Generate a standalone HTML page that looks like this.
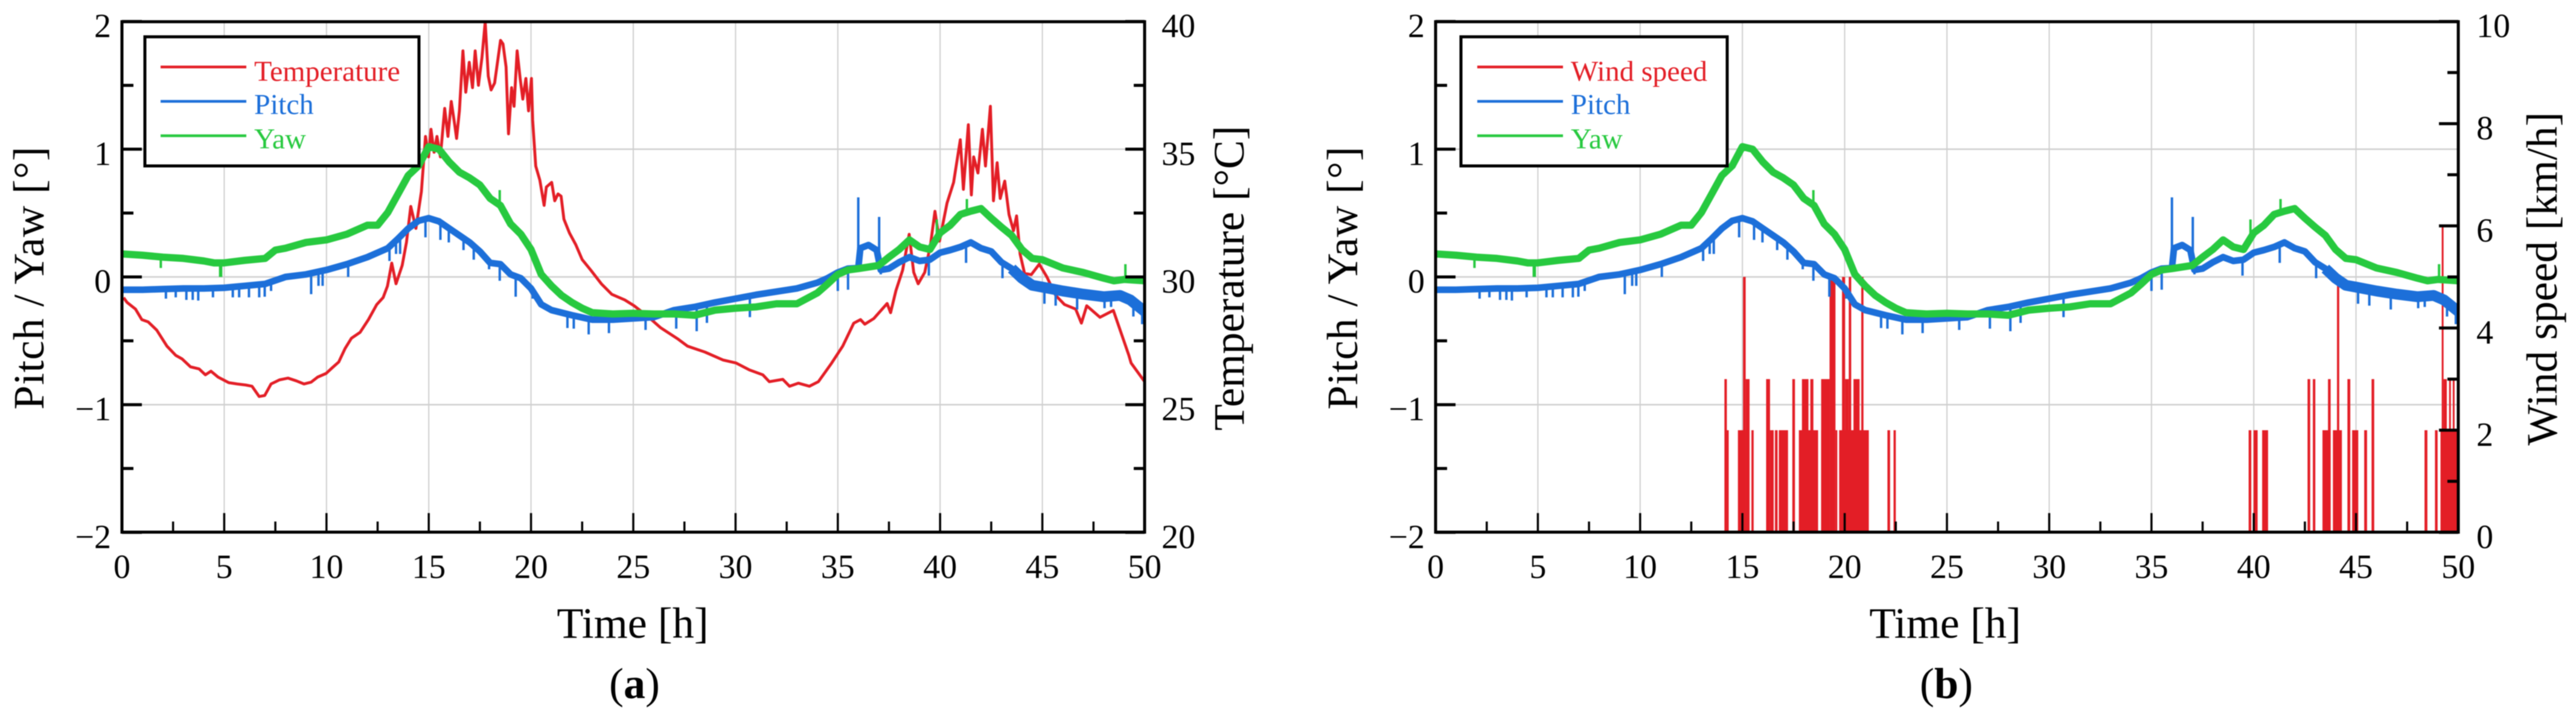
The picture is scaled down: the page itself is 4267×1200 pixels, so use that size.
<!DOCTYPE html>
<html lang="en">
<head>
<meta charset="utf-8">
<title>Pitch and yaw versus time with temperature and wind speed</title>
<style>
html,body{margin:0;padding:0;background:#fff;}
svg{display:block;font-family:"Liberation Serif",serif;filter:blur(0.8px);}
</style>
</head>
<body>
<svg id="figure" xmlns="http://www.w3.org/2000/svg" width="4267" height="1200" viewBox="0 0 4267 1200">
<defs>
<clipPath id="clip-a"><rect x="202" y="36" width="1694" height="846"/></clipPath>
<clipPath id="clip-b"><rect x="2378" y="36" width="1694" height="846"/></clipPath>
</defs>
<rect width="4267" height="1200" fill="#fff"/>

<g id="panel-a">
<g id="grid-a"></g>
<g id="series-a" clip-path="url(#clip-a)"></g>
<g id="ticks-a"></g>
<rect x="202" y="36" width="1694" height="846" fill="none" stroke="#000" stroke-width="5"/>
<g>
<rect x="240" y="61" width="454" height="214" fill="#fff" stroke="#000" stroke-width="5"/>
<line x1="266" x2="408" y1="111" y2="111" stroke="#e31e26" stroke-width="4.5"/>
<text x="421" y="134" font-size="48" fill="#e31e26">Temperature</text>
<line x1="266" x2="408" y1="168" y2="168" stroke="#1c6fd9" stroke-width="4.5"/>
<text x="421" y="189" font-size="48" fill="#1c6fd9">Pitch</text>
<line x1="266" x2="408" y1="225" y2="225" stroke="#27c93f" stroke-width="4.5"/>
<text x="421" y="246" font-size="48" fill="#27c93f">Yaw</text>
</g>
<text transform="translate(72,461) rotate(-90)" text-anchor="middle" font-size="72" textLength="436" lengthAdjust="spacing">Pitch / Yaw [°]</text>
<text transform="translate(2060,461) rotate(-90)" text-anchor="middle" font-size="72">Temperature [°C]</text>
<text x="1048" y="1057" text-anchor="middle" font-size="72">Time [h]</text>
<text x="1051" y="1157" text-anchor="middle" font-size="72">(<tspan font-weight="bold">a</tspan>)</text>
</g>

<g id="panel-b">
<g id="grid-b"></g>
<g id="series-b" clip-path="url(#clip-b)"></g>
<g id="ticks-b"></g>
<rect x="2378" y="36" width="1694" height="846" fill="none" stroke="#000" stroke-width="5"/>
<g>
<rect x="2420" y="61" width="441" height="214" fill="#fff" stroke="#000" stroke-width="5"/>
<line x1="2447" x2="2589" y1="111" y2="111" stroke="#e31e26" stroke-width="4.5"/>
<text x="2602" y="134" font-size="48" fill="#e31e26">Wind speed</text>
<line x1="2447" x2="2589" y1="168" y2="168" stroke="#1c6fd9" stroke-width="4.5"/>
<text x="2602" y="189" font-size="48" fill="#1c6fd9">Pitch</text>
<line x1="2447" x2="2589" y1="225" y2="225" stroke="#27c93f" stroke-width="4.5"/>
<text x="2602" y="246" font-size="48" fill="#27c93f">Yaw</text>
</g>
<text transform="translate(2248,461) rotate(-90)" text-anchor="middle" font-size="72" textLength="436" lengthAdjust="spacing">Pitch / Yaw [°]</text>
<text transform="translate(4235,462) rotate(-90)" text-anchor="middle" font-size="72">Wind speed [km/h]</text>
<text x="3222" y="1057" text-anchor="middle" font-size="72">Time [h]</text>
<text x="3224" y="1157" text-anchor="middle" font-size="72">(<tspan font-weight="bold">b</tspan>)</text>
</g>
</svg>

<script>
const xTickLabels = ["0","5","10","15","20","25","30","35","40","45","50"];
const xTickValues = [0,5,10,15,20,25,30,35,40,45,50];
const xMinorValues = [2.5,7.5,12.5,17.5,22.5,27.5,32.5,37.5,42.5,47.5];
const leftTickLabels = ["2","1","0","\u22121","\u22122"];
const leftTickValues = [2,1,0,-1,-2];
const leftMinorValues = [1.5,0.5,-0.5,-1.5];
const gridYValues = [1,0,-1];
const tempTickLabels = ["40","35","30","25","20"];
const tempTickValues = [40,35,30,25,20];
const tempMinorValues = [37.5,32.5,27.5,22.5];
const windTickLabels = ["10","8","6","4","2","0"];
const windTickValues = [10,8,6,4,2,0];
const windMinorValues = [9,7,5,3,1];

const yawTimes = [0,1,2,3,4,4.5,5,6,7,7.5,8,9,10,11,12,12.5,13,13.5,14,14.5,15,15.5,16,16.5,17,17.5,18,18.5,19,19.5,20,20.5,21,21.5,22,22.5,23,24,25,26,27,28,29,30,31,32,33,34,34.5,35,35.5,36,37,37.5,38,38.5,39,39.5,40,40.5,41,41.5,42,42.5,43,43.5,44,44.5,45,46,47,48,48.5,49,50];
const yawValues = [0.18,0.17,0.155,0.145,0.125,0.11,0.11,0.13,0.145,0.21,0.225,0.27,0.29,0.335,0.405,0.405,0.505,0.65,0.795,0.87,1.02,1.0,0.90,0.82,0.775,0.72,0.615,0.56,0.415,0.335,0.215,0.02,-0.07,-0.145,-0.2,-0.245,-0.28,-0.29,-0.285,-0.29,-0.29,-0.3,-0.26,-0.245,-0.235,-0.21,-0.21,-0.125,-0.055,0.02,0.055,0.065,0.09,0.155,0.215,0.29,0.235,0.215,0.345,0.405,0.49,0.515,0.535,0.46,0.39,0.325,0.215,0.145,0.135,0.07,0.035,-0.01,-0.03,-0.02,-0.03];
const yawSpikeTimes = [1.9,4.8,4.85,18.47,39.84,41.31,49.06];
const yawSpikeValues = [0.07,0,0,0.68,0.45,0.61,0.10];

const pitchTimes = [0,1,2,3,4,5,6,7,8,9,10,11,12,13,13.5,14,14.5,15,15.5,16,16.5,17,17.5,18,18.5,19,19.5,20,20.5,21,22,23,24,25,26,27,28,29,30,31,32,33,34,34.5,35,35.5,36,36.1,36.5,36.9,37.1,37.5,38,38.5,39,39.5,40,40.5,41,41.5,42,42.5,43,43.5,44,44.5,45,46,47,48,48.8,49.3,50];
const pitchValues = [-0.10,-0.10,-0.095,-0.09,-0.09,-0.085,-0.07,-0.055,0,0.02,0.055,0.10,0.155,0.225,0.30,0.38,0.44,0.46,0.435,0.38,0.325,0.27,0.20,0.11,0.10,0.02,-0.01,-0.09,-0.215,-0.26,-0.30,-0.335,-0.335,-0.325,-0.315,-0.26,-0.235,-0.2,-0.17,-0.14,-0.115,-0.09,-0.045,-0.01,0.035,0.065,0.07,0.225,0.25,0.21,0.055,0.065,0.115,0.155,0.125,0.135,0.19,0.21,0.235,0.27,0.225,0.20,0.115,0.065,-0.01,-0.065,-0.08,-0.11,-0.135,-0.155,-0.145,-0.18,-0.27];
const pitchSpikeTimes = [2.15,2.63,3.15,3.46,3.73,4.45,5.42,5.73,6.21,6.71,6.98,7.29,9.25,9.61,9.81,11.06,13.08,13.4,13.6,14.84,15.57,15.98,16.7,17.2,17.95,18.47,19.25,20.08,21.78,22.09,22.82,23.81,25.6,27.1,28.1,28.6,30.7,35.0,35.5,36.0,37.02,37.1,39.45,41.27,43.05,45.1,45.65,46.7,48.04,48.36,49.45,49.88];
const pitchSpikeValues = [-0.17,-0.16,-0.18,-0.18,-0.185,-0.16,-0.16,-0.16,-0.16,-0.16,-0.155,-0.11,-0.135,-0.07,-0.07,0,0.125,0.18,0.18,0.31,0.29,0.27,0.21,0.135,0.06,-0.03,-0.155,-0.17,-0.40,-0.405,-0.45,-0.44,-0.415,-0.405,-0.425,-0.36,-0.315,-0.11,-0.10,0.623,0.47,0.02,0.01,0.11,-0.01,-0.21,-0.225,-0.255,-0.245,-0.235,-0.31,-0.37];

const tempTimes = [0.08,0.25,0.66,0.97,1.28,1.7,2.2,2.63,2.94,3.35,3.77,4.08,4.35,4.7,5.22,5.63,6.05,6.36,6.71,6.98,7.29,7.7,8.12,8.53,8.9,9.25,9.57,9.98,10.29,10.6,10.91,11.22,11.64,12.05,12.46,12.77,12.98,13.19,13.4,13.7,13.91,14.12,14.37,14.64,14.84,14.99,15.11,15.26,15.4,15.57,15.78,15.94,16.1,16.27,16.36,16.5,16.67,16.81,16.98,17.14,17.27,17.43,17.6,17.76,17.91,18.05,18.22,18.51,18.63,18.78,18.9,19.05,19.17,19.32,19.47,19.6,19.75,19.88,20.02,20.08,20.23,20.43,20.64,20.75,21.01,21.16,21.32,21.47,21.61,21.88,22.19,22.5,22.92,23.44,23.95,24.58,25.04,25.7,26.34,27.2,27.65,28.5,29.38,30.03,30.68,31.33,31.65,32.31,32.64,33.07,33.61,34.05,34.37,34.7,35.24,35.78,36.11,36.32,36.76,37.41,37.58,37.84,38.17,38.49,38.71,38.93,39.25,39.53,39.75,39.97,40.34,40.66,40.99,41.14,41.38,41.53,41.64,41.85,42.07,42.22,42.46,42.61,42.79,42.94,43.16,43.37,43.59,43.74,43.91,44.13,44.46,44.85,45.22,45.65,46.08,46.63,46.91,47.17,47.82,48.47,49.23,49.34,50];
const tempValues = [29.19,29.0,28.74,28.33,28.24,27.92,27.29,26.93,26.79,26.48,26.4,26.17,26.31,26.08,25.86,25.81,25.77,25.72,25.32,25.36,25.81,25.97,26.04,25.93,25.81,25.88,26.08,26.22,26.45,26.67,27.2,27.6,27.83,28.33,28.92,29.19,29.64,30.54,29.73,30.45,31.36,32.76,31.9,33.34,35.5,34.7,35.78,34.88,35.5,34.7,36.6,35.5,36.87,35.96,35.42,36.5,38.85,37.23,38.4,37.41,38.85,37.5,38.58,39.98,37.86,37.32,37.59,39.26,39.12,38.22,35.6,37.41,36.68,38.85,37.77,36.96,37.77,36.5,37.77,36.14,34.34,33.79,32.8,33.52,33.7,32.98,33.25,33.16,32.26,31.72,31.26,30.68,30.27,29.73,29.32,29.1,28.87,28.46,28.01,27.56,27.29,27.06,26.75,26.63,26.36,26.17,25.9,25.99,25.72,25.84,25.72,25.9,26.26,26.63,27.29,28.19,28.33,28.15,28.37,28.96,28.6,29.46,30.27,31.67,30.18,29.73,30.18,31.26,32.57,31.4,32.89,33.7,35.37,33.43,35.96,33.21,34.7,34.07,35.78,34.34,36.68,32.98,34.47,33.07,33.75,32.44,31.81,32.39,30.9,30.14,30.09,30.5,30,29.28,28.92,28.74,28.19,28.87,28.42,28.69,26.93,26.63,25.9];

const windStartHours = [14.12,14.24,14.78,15.03,15.16,15.16,15.44,16.16,16.35,16.59,16.78,17.44,17.76,17.91,18.32,18.85,18.85,19.26,19.55,19.73,19.87,20.02,20.2,20.43,20.81,22.09,22.39,39.75,39.99,40.41,42.63,42.89,43.36,43.63,43.87,44.07,44.58,44.81,45.4,45.76,48.35,48.86,49.13,49.19,49.28,49.55,49.73];
const windEndHours = [14.24,14.33,15.16,15.16,15.35,15.35,15.55,16.35,16.53,16.72,17.23,17.57,18.7,18.23,18.47,19.26,19.26,19.55,19.64,21.18,20.02,20.2,20.32,20.73,20.92,22.22,22.5,39.88,40.19,40.7,42.76,43.01,43.76,43.76,44.31,44.18,44.72,45.11,45.54,45.89,48.49,48.99,50,49.28,49.44,49.62,49.82];
const windSpeeds = [3,2,2,5,3,2,2,3,2,2,2,3,2,3,3,3,2,5,2,2,5,3,5,3,5,2,2,2,2,2,3,3,2,3,2,5,3,2,2,3,2,2,2,6,3,3,3];

const svgNS = 'http://www.w3.org/2000/svg';
const plotTop = 35.6;
const plotBottom = 882.4;
const plotWidth = 1694;
const red = '#e31e26', blue = '#1c6fd9', green = '#27c93f', gridColor = '#cfcfcf';

function make(tag, attrs, parent) {
  const el = document.createElementNS(svgNS, tag);
  for (const k in attrs) el.setAttribute(k, attrs[k]);
  parent.appendChild(el);
  return el;
}
function linear(d0, d1, r0, r1) {
  return v => r0 + (v - d0) * (r1 - r0) / (d1 - d0);
}
function pathFrom(times, values, xs, ys) {
  return times.map((t, i) => (i ? 'L' : 'M') + xs(t).toFixed(1) + ' ' + ys(values[i]).toFixed(1)).join('');
}
function baseAt(times, values, t) {
  for (let i = 1; i < times.length; i++) {
    if (t <= times[i]) {
      const f = (t - times[i - 1]) / (times[i] - times[i - 1]);
      return values[i - 1] + f * (values[i] - values[i - 1]);
    }
  }
  return values[values.length - 1];
}

function drawPitchYaw(series, xs, ys) {
  const pitchPath = make('path', {d: pathFrom(pitchTimes, pitchValues, xs, ys), fill: 'none', stroke: blue, 'stroke-width': 11, 'stroke-linejoin': 'round'}, series);
  
  
  const tailTimes = pitchTimes.filter(t => t >= 43.5);
  const tailValues = pitchValues.slice(pitchValues.length - tailTimes.length);
  const pitchTail = make('path', {d: pathFrom(tailTimes, tailValues, xs, ys), fill: 'none', stroke: blue, 'stroke-width': 18, 'stroke-linejoin': 'round'}, series);
  
  
  pitchSpikeTimes.forEach((t, i) => {
    const spike = make('line', {x1: xs(t), x2: xs(t), y1: ys(baseAt(pitchTimes, pitchValues, t)), y2: ys(pitchSpikeValues[i]), stroke: blue, 'stroke-width': 4}, series);
    
    
  });
  const yawPath = make('path', {d: pathFrom(yawTimes, yawValues, xs, ys), fill: 'none', stroke: green, 'stroke-width': 12, 'stroke-linejoin': 'round'}, series);
  
  
  yawSpikeTimes.forEach((t, i) => {
    const spike = make('line', {x1: xs(t), x2: xs(t), y1: ys(baseAt(yawTimes, yawValues, t)), y2: ys(yawSpikeValues[i]), stroke: green, 'stroke-width': 4}, series);
    
    
  });
}

function drawGrid(grid, xs, ys) {
  xTickValues.slice(1, -1).forEach(v => {
    const line = make('line', {x1: xs(v), x2: xs(v), y1: plotTop, y2: plotBottom, stroke: gridColor, 'stroke-width': 2}, grid);
    
    
  });
  gridYValues.forEach(v => {
    const line = make('line', {x1: xs(0), x2: xs(50), y1: ys(v), y2: ys(v), stroke: gridColor, 'stroke-width': 2.5}, grid);
    
    
  });
}

function drawTicks(group, xs, ys, rightScale, rightValues, rightMinor, rightLabels, rightLabelOffset) {
  const left = xs(0), right = xs(50);
  xTickValues.forEach((v, i) => {
    const tick = make('line', {x1: xs(v), x2: xs(v), y1: plotBottom, y2: plotBottom - 32, stroke: '#000', 'stroke-width': 3.5}, group);
    
    
    const label = make('text', {x: xs(v), y: 958, 'text-anchor': 'middle', 'font-size': 56}, group);
    label.textContent = xTickLabels[i];
    
    
  });
  xMinorValues.forEach(v => {
    const tick = make('line', {x1: xs(v), x2: xs(v), y1: plotBottom, y2: plotBottom - 18, stroke: '#000', 'stroke-width': 3.5}, group);
    
    
  });
  leftTickValues.forEach((v, i) => {
    const tick = make('line', {x1: left, x2: left + 33, y1: ys(v), y2: ys(v), stroke: '#000', 'stroke-width': 5}, group);
    
    
    const label = make('text', {x: left - 18, y: ys(v) + 26, 'text-anchor': 'end', 'font-size': 56}, group);
    label.textContent = leftTickLabels[i];
    
    
  });
  leftMinorValues.forEach(v => {
    const tick = make('line', {x1: left, x2: left + 19, y1: ys(v), y2: ys(v), stroke: '#000', 'stroke-width': 5}, group);
    
    
  });
  rightValues.forEach((v, i) => {
    const tick = make('line', {x1: right, x2: right - 32, y1: rightScale(v), y2: rightScale(v), stroke: '#000', 'stroke-width': 5}, group);
    
    
    const label = make('text', {x: right + rightLabelOffset, y: rightScale(v) + 26, 'font-size': 56}, group);
    label.textContent = rightLabels[i];
    
    
  });
  rightMinor.forEach(v => {
    const tick = make('line', {x1: right, x2: right - 18, y1: rightScale(v), y2: rightScale(v), stroke: '#000', 'stroke-width': 5}, group);
    
    
  });
}

/* Panel (a) */
const xA = linear(0, 50, 202, 202 + plotWidth);
const yLeft = linear(-2, 2, plotBottom, plotTop);
const yTemp = linear(20, 40, plotBottom, plotTop);
drawGrid(document.getElementById('grid-a'), xA, yLeft);
const seriesA = document.getElementById('series-a');
const tempPath = make('path', {d: pathFrom(tempTimes, tempValues, xA, yTemp), fill: 'none', stroke: red, 'stroke-width': 4.8, 'stroke-linejoin': 'round'}, seriesA);


drawPitchYaw(seriesA, xA, yLeft);
drawTicks(document.getElementById('ticks-a'), xA, yLeft, yTemp, tempTickValues, tempMinorValues, tempTickLabels, 28);

/* Panel (b) */
const xB = linear(0, 50, 2378, 2378 + plotWidth);
const yWind = linear(0, 10, plotBottom, plotTop);
drawGrid(document.getElementById('grid-b'), xB, yLeft);
const seriesB = document.getElementById('series-b');
windStartHours.forEach((start, i) => {
  const bar = make('rect', {x: xB(start), width: Math.max(xB(windEndHours[i]) - xB(start), 3), y: yWind(windSpeeds[i]), height: plotBottom - yWind(windSpeeds[i]), fill: red}, seriesB);
  
  
});
drawPitchYaw(seriesB, xB, yLeft);
drawTicks(document.getElementById('ticks-b'), xB, yLeft, yWind, windTickValues, windMinorValues, windTickLabels, 30);
</script>
</body>
</html>
